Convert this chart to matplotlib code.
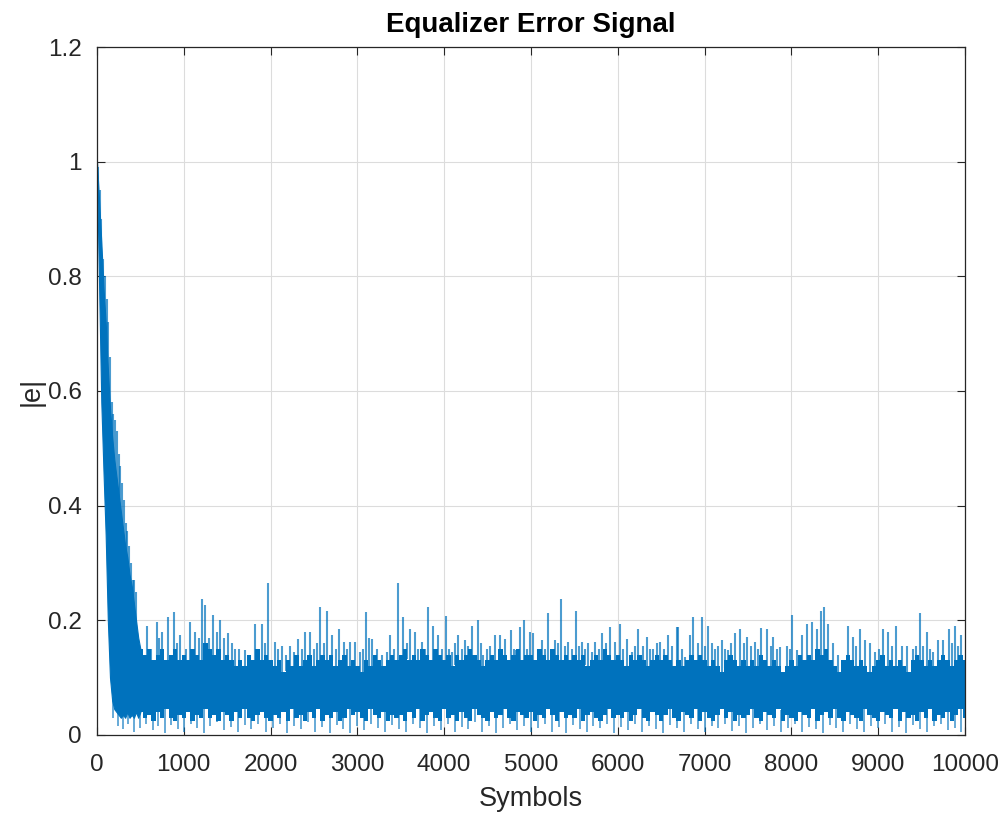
import matplotlib
matplotlib.use("Agg")
import matplotlib.pyplot as plt
import numpy as np

# ---- data ----
# transient part of the solid band (symbols 0..500, step 25)
trans_sym = [0, 25, 50, 75, 100, 125, 150, 175, 200, 225, 250, 275, 300, 325, 350, 375, 400,
             425, 450, 475, 500]
trans_hi = [1.0, 0.93, 0.86, 0.78, 0.72, 0.64, 0.57, 0.52, 0.48, 0.45, 0.42, 0.39, 0.36, 0.33,
            0.31, 0.28, 0.26, 0.23, 0.2, 0.17, 0.15]
trans_lo = [0.98, 0.78, 0.58, 0.46, 0.35, 0.2, 0.1, 0.06, 0.045, 0.04, 0.035, 0.03, 0.035,
            0.03, 0.04, 0.03, 0.035, 0.03, 0.04, 0.03, 0.04]

# steady part of the solid band (symbols 500..10000, step 50)
steady_sym = list(range(500, 10001, 50))
steady_hi = [0.15, 0.14, 0.15, 0.13, 0.14, 0.15, 0.13, 0.14, 0.15, 0.13,
             0.14, 0.13, 0.15, 0.14, 0.13, 0.16, 0.15, 0.14, 0.15, 0.13,
             0.14, 0.13, 0.12, 0.13, 0.12, 0.14, 0.13, 0.15, 0.13, 0.14,
             0.13, 0.12, 0.13, 0.11, 0.13, 0.12, 0.14, 0.12, 0.13, 0.14,
             0.12, 0.13, 0.14, 0.13, 0.14, 0.12, 0.13, 0.14, 0.12, 0.13,
             0.12, 0.11, 0.13, 0.12, 0.14, 0.13, 0.12, 0.13, 0.14, 0.13,
             0.14, 0.15, 0.13, 0.14, 0.13, 0.15, 0.14, 0.13, 0.15, 0.14,
             0.13, 0.14, 0.12, 0.14, 0.13, 0.14, 0.15, 0.14, 0.13, 0.12,
             0.13, 0.14, 0.13, 0.15, 0.14, 0.13, 0.14, 0.15, 0.13, 0.14,
             0.14, 0.13, 0.15, 0.14, 0.13, 0.15, 0.14, 0.13, 0.14, 0.13,
             0.14, 0.13, 0.14, 0.12, 0.13, 0.14, 0.13, 0.15, 0.14, 0.13,
             0.14, 0.13, 0.12, 0.14, 0.13, 0.14, 0.13, 0.12, 0.13, 0.14,
             0.13, 0.14, 0.13, 0.12, 0.13, 0.12, 0.13, 0.14, 0.13, 0.14,
             0.13, 0.12, 0.13, 0.12, 0.11, 0.13, 0.14, 0.13, 0.12, 0.13,
             0.12, 0.13, 0.12, 0.14, 0.13, 0.12, 0.13, 0.12, 0.11, 0.12,
             0.13, 0.12, 0.14, 0.13, 0.14, 0.13, 0.15, 0.14, 0.15, 0.13,
             0.12, 0.11, 0.13, 0.14, 0.13, 0.12, 0.13, 0.12, 0.11, 0.12,
             0.13, 0.14, 0.12, 0.13, 0.12, 0.13, 0.12, 0.11, 0.13, 0.14,
             0.13, 0.12, 0.13, 0.12, 0.13, 0.14, 0.13, 0.12, 0.13, 0.14,
             0.13]
steady_lo = [0.04, 0.03, 0.035, 0.025, 0.04, 0.03, 0.045, 0.03, 0.025, 0.035,
             0.03, 0.04, 0.025, 0.035, 0.03, 0.045, 0.03, 0.035, 0.025, 0.04,
             0.035, 0.025, 0.04, 0.03, 0.045, 0.03, 0.025, 0.035, 0.04, 0.03,
             0.025, 0.035, 0.03, 0.04, 0.025, 0.045, 0.03, 0.035, 0.025, 0.04,
             0.03, 0.045, 0.025, 0.035, 0.03, 0.04, 0.025, 0.03, 0.045, 0.035,
             0.04, 0.03, 0.025, 0.045, 0.035, 0.03, 0.04, 0.025, 0.035, 0.03,
             0.035, 0.025, 0.04, 0.03, 0.045, 0.025, 0.035, 0.04, 0.03, 0.025,
             0.045, 0.03, 0.035, 0.025, 0.04, 0.03, 0.025, 0.045, 0.035, 0.03,
             0.025, 0.04, 0.03, 0.035, 0.045, 0.03, 0.025, 0.04, 0.035, 0.03,
             0.04, 0.025, 0.035, 0.03, 0.045, 0.035, 0.025, 0.04, 0.03, 0.035,
             0.03, 0.045, 0.025, 0.035, 0.04, 0.03, 0.025, 0.035, 0.045, 0.03,
             0.035, 0.03, 0.04, 0.025, 0.035, 0.045, 0.03, 0.025, 0.04, 0.035,
             0.025, 0.035, 0.045, 0.03, 0.025, 0.04, 0.035, 0.03, 0.045, 0.025,
             0.04, 0.03, 0.025, 0.035, 0.045, 0.03, 0.04, 0.025, 0.035, 0.03,
             0.035, 0.045, 0.03, 0.025, 0.04, 0.035, 0.03, 0.045, 0.025, 0.035,
             0.03, 0.025, 0.04, 0.035, 0.03, 0.045, 0.025, 0.035, 0.04, 0.03,
             0.045, 0.03, 0.025, 0.04, 0.035, 0.03, 0.025, 0.045, 0.035, 0.03,
             0.025, 0.04, 0.035, 0.03, 0.045, 0.025, 0.04, 0.03, 0.035, 0.025,
             0.04, 0.03, 0.045, 0.025, 0.035, 0.03, 0.04, 0.025, 0.035, 0.045,
             0.03]

# early transient upper spikes
early_sym = [10, 30, 50, 70, 90, 110, 130, 150, 170, 190, 210, 230, 250, 270, 290, 310, 330, 350,
             370, 390, 410, 430, 450]
early_val = [0.99, 0.95, 0.9, 0.83, 0.8, 0.76, 0.72, 0.66, 0.58, 0.56, 0.55, 0.53, 0.49, 0.47, 0.44,
             0.41, 0.37, 0.355, 0.33, 0.3, 0.27, 0.27, 0.25]

# upper spikes in steady state
peak_sym = [475, 530, 575, 625, 690, 720, 750, 820, 885, 925, 955, 1020, 1070, 1130, 1170, 1210,
            1245, 1290, 1340, 1380, 1415, 1460, 1510, 1560, 1590, 1640, 1705, 1760, 1820, 1860,
            1897, 1940, 1975, 2050, 2090, 2127, 2180, 2223, 2270, 2319, 2360, 2396, 2453, 2500,
            2530, 2569, 2610, 2653, 2703, 2750, 2791, 2845, 2880, 2914, 2972, 3030, 3060, 3099,
            3130, 3164, 3221, 3280, 3337, 3376, 3420, 3470, 3529, 3570, 3606, 3664, 3700, 3740,
            3780, 3817, 3875, 3932, 3975, 4017, 4050, 4086, 4130, 4163, 4200, 4240, 4280, 4324,
            4386, 4420, 4451, 4490, 4528, 4585, 4643, 4700, 4766, 4800, 4827, 4873, 4923, 4960,
            4988, 5026, 5080, 5122, 5160, 5199, 5240, 5276, 5310, 5345, 5390, 5430, 5470, 5514,
            5550, 5583, 5620, 5660, 5700, 5737, 5780, 5814, 5860, 5910, 5967, 6025, 6060, 6102,
            6159, 6200, 6236, 6290, 6332, 6370, 6409, 6450, 6486, 6530, 6582, 6630, 6678, 6697,
            6740, 6774, 6832, 6870, 6920, 6966, 7000, 7043, 7080, 7120, 7160, 7197, 7240, 7274,
            7310, 7351, 7409, 7450, 7486, 7530, 7582, 7620, 7650, 7716, 7760, 7793, 7830, 7870,
            7946, 7980, 8011, 8061, 8118, 8176, 8234, 8291, 8337, 8379, 8425, 8483, 8540, 8598,
            8656, 8713, 8750, 8790, 8848, 8906, 8963, 9010, 9059, 9117, 9160, 9205, 9269, 9334,
            9404, 9440, 9481, 9520, 9557, 9600, 9634, 9692, 9749, 9814, 9850, 9883, 9920, 9960,
            9995]
peak_val = [0.16, 0.14, 0.19, 0.15, 0.197, 0.17, 0.18, 0.205, 0.215, 0.16, 0.175, 0.15, 0.197,
            0.18, 0.17, 0.238, 0.226, 0.17, 0.21, 0.18, 0.2, 0.17, 0.177, 0.16, 0.15, 0.15, 0.148,
            0.14, 0.194, 0.15, 0.194, 0.16, 0.265, 0.162, 0.15, 0.156, 0.14, 0.156, 0.145, 0.168,
            0.15, 0.18, 0.18, 0.15, 0.16, 0.223, 0.16, 0.217, 0.174, 0.15, 0.185, 0.162, 0.15,
            0.162, 0.162, 0.145, 0.15, 0.215, 0.17, 0.168, 0.15, 0.14, 0.145, 0.174, 0.15, 0.265,
            0.206, 0.16, 0.185, 0.18, 0.15, 0.162, 0.15, 0.223, 0.19, 0.174, 0.15, 0.208, 0.15,
            0.145, 0.16, 0.174, 0.15, 0.165, 0.155, 0.19, 0.2, 0.16, 0.14, 0.15, 0.156, 0.174,
            0.174, 0.168, 0.183, 0.15, 0.148, 0.188, 0.2, 0.15, 0.18, 0.177, 0.15, 0.165, 0.15,
            0.212, 0.15, 0.165, 0.16, 0.238, 0.155, 0.162, 0.15, 0.216, 0.155, 0.162, 0.15, 0.16,
            0.145, 0.162, 0.15, 0.177, 0.16, 0.188, 0.162, 0.194, 0.15, 0.168, 0.145, 0.155, 0.185,
            0.155, 0.171, 0.15, 0.15, 0.16, 0.162, 0.15, 0.174, 0.155, 0.188, 0.188, 0.15, 0.136,
            0.174, 0.206, 0.16, 0.206, 0.155, 0.19, 0.16, 0.15, 0.155, 0.165, 0.15, 0.148, 0.16,
            0.177, 0.185, 0.16, 0.171, 0.155, 0.162, 0.15, 0.186, 0.185, 0.155, 0.171, 0.15, 0.153,
            0.156, 0.15, 0.209, 0.148, 0.174, 0.194, 0.197, 0.185, 0.217, 0.223, 0.194, 0.16, 0.14,
            0.124, 0.19, 0.171, 0.155, 0.185, 0.165, 0.16, 0.145, 0.15, 0.185, 0.18, 0.155, 0.19,
            0.156, 0.155, 0.15, 0.155, 0.212, 0.155, 0.18, 0.15, 0.145, 0.165, 0.165, 0.185, 0.16,
            0.19, 0.155, 0.174, 0.13]

# lower dips toward zero
dip_sym = [180, 240, 300, 360, 430, 500, 570, 640, 700, 780, 850, 930, 1000, 1080, 1150, 1230,
           1300, 1380, 1460, 1540, 1620, 1700, 1780, 1860, 1950, 2030, 2110, 2190, 2270, 2350,
           2430, 2510, 2590, 2680, 2760, 2840, 2920, 3000, 3080, 3160, 3240, 3320, 3400, 3480,
           3560, 3640, 3720, 3800, 3880, 3960, 4040, 4120, 4200, 4280, 4360, 4440, 4520, 4600,
           4680, 4760, 4840, 4920, 5000, 5080, 5160, 5240, 5320, 5400, 5480, 5560, 5640, 5720,
           5800, 5880, 5960, 6040, 6120, 6200, 6280, 6360, 6440, 6520, 6600, 6680, 6760, 6840,
           6920, 7000, 7080, 7160, 7240, 7320, 7400, 7480, 7560, 7640, 7720, 7800, 7880, 7960,
           8040, 8120, 8200, 8280, 8360, 8440, 8520, 8600, 8680, 8760, 8840, 8920, 9000, 9080,
           9160, 9240, 9320, 9400, 9480, 9560, 9640, 9720, 9800, 9880, 9960]
dip_val = [0.03, 0.015, 0.01, 0.02, 0.005, 0.012, 0.02, 0.008, 0.015, 0.004, 0.018, 0.01, 0.006,
           0.02, 0.012, 0.004, 0.015, 0.022, 0.008, 0.014, 0.005, 0.018, 0.01, 0.02, 0.006, 0.012,
           0.02, 0.004, 0.015, 0.01, 0.022, 0.006, 0.014, 0.003, 0.018, 0.01, 0.004, 0.016, 0.008,
           0.02, 0.012, 0.005, 0.018, 0.01, 0.006, 0.02, 0.013, 0.004, 0.016, 0.009, 0.02, 0.005,
           0.014, 0.01, 0.022, 0.006, 0.015, 0.004, 0.012, 0.02, 0.008, 0.016, 0.005, 0.012, 0.02,
           0.006, 0.014, 0.003, 0.018, 0.01, 0.005, 0.016, 0.012, 0.02, 0.004, 0.014, 0.009, 0.02,
           0.006, 0.015, 0.01, 0.004, 0.018, 0.012, 0.006, 0.02, 0.01, 0.005, 0.016, 0.012, 0.02,
           0.007, 0.015, 0.004, 0.012, 0.02, 0.008, 0.016, 0.005, 0.013, 0.02, 0.006, 0.014, 0.01,
           0.004, 0.018, 0.012, 0.006, 0.02, 0.01, 0.005, 0.016, 0.012, 0.02, 0.006, 0.014, 0.004,
           0.018, 0.01, 0.006, 0.015, 0.02, 0.008, 0.012, 0.005]

x_ticks = [0, 1000, 2000, 3000, 4000, 5000, 6000, 7000, 8000, 9000, 10000]
y_ticks = [0, 0.2, 0.4, 0.6, 0.8, 1.0, 1.2]
y_tick_labels = ["0", "0.2", "0.4", "0.6", "0.8", "1", "1.2"]

# ---- style ----
plt.rcParams['font.family'] = ['Liberation Sans', 'DejaVu Sans']
blue = "#0072BD"
dark = "#262626"

fig = plt.figure(figsize=(10.08, 8.19), dpi=100)
ax = fig.add_axes([0.0962, 0.1026, 0.8611, 0.84])

# transient wedge (smooth) and steady band (stepped)
ax.fill_between(trans_sym, trans_lo, trans_hi, color=blue, linewidth=0.8,
                edgecolor=blue, zorder=3)
ax.fill_between(steady_sym, steady_lo, steady_hi, step="mid", color=blue, linewidth=0, zorder=3)

band_sym = np.array(trans_sym[:-1] + steady_sym)
band_hi = np.array(trans_hi[:-1] + steady_hi)
band_lo = np.array(trans_lo[:-1] + steady_lo)

# spikes out of the solid band
core_at_peak = np.interp(peak_sym, band_sym, band_hi)
ax.vlines(peak_sym, core_at_peak - 0.01, peak_val, color=blue, linewidth=1.5, alpha=0.7, zorder=3)
core_at_early = np.interp(early_sym, band_sym, band_hi)
ax.vlines(early_sym, core_at_early - 0.02, early_val, color=blue, linewidth=1.5, alpha=0.7, zorder=3)
lo_at_dip = np.interp(dip_sym, band_sym, band_lo)
ax.vlines(dip_sym, dip_val, lo_at_dip + 0.01, color=blue, linewidth=1.4, alpha=0.6, zorder=3)

ax.set_xlim(0, 10000)
ax.set_ylim(0, 1.2)
ax.set_xticks(x_ticks)
ax.set_yticks(y_ticks)
ax.set_yticklabels(y_tick_labels)
ax.grid(True, color="#dcdcdc", linewidth=0.8, zorder=0)
ax.set_axisbelow(True)
ax.tick_params(direction="in", top=True, right=True, length=6, width=0.8,
               colors=dark, labelsize=17.5)
ax.tick_params(axis="x", pad=14)
ax.tick_params(axis="y", pad=11)
for s in ax.spines.values():
    s.set_color(dark)
    s.set_linewidth(0.9)
    s.set_zorder(5)

ax.set_title("Equalizer Error Signal", fontsize=20, fontweight="bold", color="black", pad=11)
ax.set_xlabel("Symbols", fontsize=19.5, color=dark, labelpad=7)
ax.set_ylabel("|e|", fontsize=19.5, color=dark, labelpad=2)

fig.savefig("out.png", dpi=100)
